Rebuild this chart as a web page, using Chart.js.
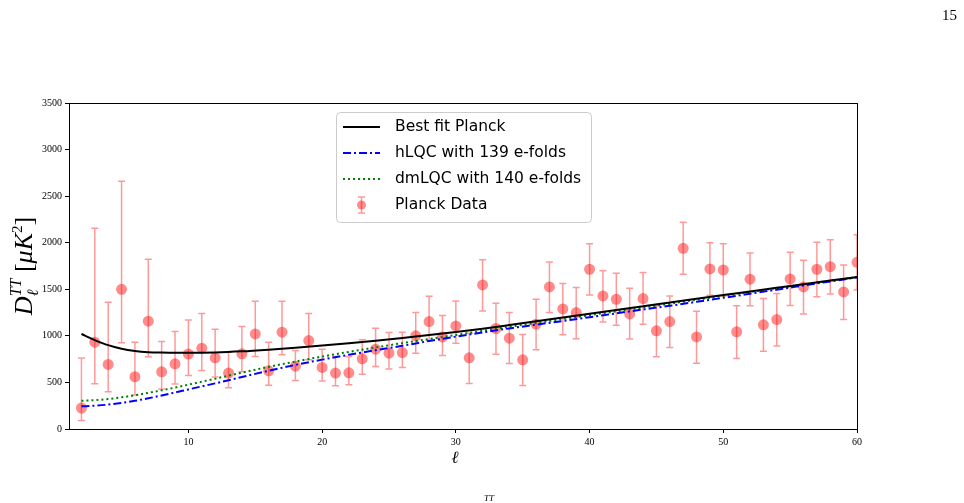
<!DOCTYPE html>
<html>
<head>
<meta charset="utf-8">
<script src="https://cdn.jsdelivr.net/npm/chart.js@4"></script>
<style>
    html, body { margin: 0; padding: 0; background: #fff; }
    #wrap { width: 964px; height: 503px; }
</style>
</head>
<body>
<div id="wrap"><canvas id="c"></canvas></div>
<script>
// Planck data points, ell = 2..60
const ells = [2,3,4,5,6,7,8,9,10,11,12,13,14,15,16,17,18,19,20,21,22,23,24,25,26,27,28,29,30,31,
    32,33,34,35,36,37,38,39,40,41,42,43,44,45,46,47,48,49,50,51,52,53,54,55,56,57,58,59,60];
const planckDl = [225,932,693,1500,561,1157,614,700,804,868, 764,600,807,1021,625,1040,675,950,661,600,
    603,753,857,814,821,1000,1153,989,1107,764, 1547,1079,975,743,1125,1525,1289,1250,1715,1429,
    1393,1236,1400,1054,1153,1940,989,1718,1707,1043, 1608,1118,1175,1611,1525,1715,1743,1472,1790];
const planckLow = [92,486,400,925,364,775,429,482,575,628, 557,443,614,778,471,796,521,743,514,464,
    475,589,671,643,661,814,950,789,921,489, 1268,803,703,468,850,1250,1011,968,1439,1150,
    1115,965,1125,775,875,1661,707,1436,1429,757, 1322,836,890,1325,1236,1421,1450,1175,1493];
const planckHigh = [761,2154,1361,2661,932,1822,939,1046,1171,1239, 1072,825,1100,1372,932,1372,843,1239,857,778,
    778,957,1082,1035,1039,1250,1425,1218,1375,1029, 1818,1350,1250,1014,1393,1793,1561,1518,1989,1700,
    1672,1511,1679,1322,1429,2219,1265,2000,1989,1322, 1890,1400,1454,1897,1811,2004,2032,1761,2086];

// model curves
const fitEll = [2,3,4,5,6,7,8,9,10,12,14,16,18,20,22,24,26,28,30,32,34,36,38,40,42,44,46,48,50,52,54,56,58,60];
const bestFit = [1020,955,900,862,838,825,820,818,818, 822,834,852,873,896,921,948,977,1008,1041,1077,1116,1156,
    1197,1238,1278,1318,1358,1398,1438,1477,1516,1555,1594,1632];
const hlqc = [243,250,262,280,303,330,360,392,425, 490,558,625,688,745,797,846,893,945,992,1037,1080,1120,
    1160,1200,1242,1283,1323,1365,1408,1452,1496,1540,1584,1628];
const dmlqc = [303,310,322,340,362,388,415,445,476, 540,605,667,724,778,828,876,922,966,1010,1053,1096,1139,
    1181,1222,1263,1304,1345,1387,1429,1471,1512,1552,1592,1630];

const xTicks = [10, 20, 30, 40, 50, 60];
const yTicks = [0, 500, 1000, 1500, 2000, 2500, 3000, 3500];

const pts = (xs, ys) => xs.map((x, i) => ({ x: x, y: ys[i] }));
const serif = "'Liberation Serif', 'DejaVu Serif', serif";
const sans = "'DejaVu Sans', 'Open Sans', sans-serif";

const errorBars = {
    id: "errorBars",
    beforeDatasetsDraw(chart) {
        const { ctx, chartArea: a, scales: { x, y } } = chart;
        ctx.save();
        ctx.beginPath();
        ctx.rect(a.left, a.top, a.right - a.left, a.bottom - a.top);
        ctx.clip();
        ctx.strokeStyle = "rgba(255,0,0,0.4)";
        ctx.lineWidth = 1.5;
        ells.forEach((l, i) => {
            const px = x.getPixelForValue(l);
            const lo = y.getPixelForValue(planckLow[i]);
            const hi = y.getPixelForValue(planckHigh[i]);
            ctx.beginPath();
            ctx.moveTo(px, lo); ctx.lineTo(px, hi);
            ctx.moveTo(px - 3.5, lo); ctx.lineTo(px + 3.5, lo);
            ctx.moveTo(px - 3.5, hi); ctx.lineTo(px + 3.5, hi);
            ctx.stroke();
        });
        ctx.restore();
    },
};

const frameAndText = {
    id: "frameAndText",
    afterDraw(chart) {
        const { ctx, chartArea: a } = chart;
        ctx.save();
        ctx.strokeStyle = "#000";
        ctx.lineWidth = 1;
        ctx.strokeRect(a.left + 0.5, a.top + 0.5, a.right - a.left, a.bottom - a.top);

        // legend
        const bx = 336, by = 112, bw = 255, bh = 110;
        ctx.fillStyle = "rgba(255,255,255,0.85)";
        ctx.strokeStyle = "#cccccc";
        ctx.beginPath();
        ctx.roundRect(bx + 0.5, by + 0.5, bw, bh, 4);
        ctx.fill();
        ctx.stroke();
        const rows = [127, 153, 179, 205];
        const labels = ["Best fit Planck", "hLQC with 139 e-folds", "dmLQC with 140 e-folds", "Planck Data"];
        const ds = chart.data.datasets;
        for (let i = 0; i < 3; i++) {
            ctx.strokeStyle = ds[i].borderColor;
            ctx.lineWidth = ds[i].borderWidth;
            ctx.setLineDash(ds[i].borderDash || []);
            ctx.beginPath();
            ctx.moveTo(343, rows[i]);
            ctx.lineTo(380, rows[i]);
            ctx.stroke();
        }
        ctx.setLineDash([]);
        ctx.strokeStyle = "rgba(255,0,0,0.4)";
        ctx.lineWidth = 1.5;
        ctx.beginPath();
        ctx.moveTo(361.5, rows[3] - 8); ctx.lineTo(361.5, rows[3] + 8);
        ctx.moveTo(358, rows[3] - 8); ctx.lineTo(365, rows[3] - 8);
        ctx.moveTo(358, rows[3] + 8); ctx.lineTo(365, rows[3] + 8);
        ctx.stroke();
        ctx.fillStyle = "rgba(255,0,0,0.45)";
        ctx.beginPath();
        ctx.arc(361.5, rows[3], 4.5, 0, Math.PI * 2);
        ctx.fill();
        ctx.fillStyle = "#000";
        ctx.font = "15.5px " + sans;
        ctx.textBaseline = "middle";
        labels.forEach((t, i) => ctx.fillText(t, 395, rows[i]));

        // page number and cut-off caption bit
        ctx.font = "15px " + serif;
        ctx.textAlign = "right";
        ctx.fillText("15", 957, 16);
        ctx.font = "italic 9px " + serif;
        ctx.textAlign = "left";
        ctx.fillText("TT", 484, 499);

        // x title
        ctx.font = "italic 17px " + serif;
        ctx.textAlign = "center";
        ctx.fillText("\u2113", 455, 459);

        // y title D_l^TT [muK^2]
        ctx.translate(24, 266);
        ctx.rotate(-Math.PI / 2);
        const big = "italic 26px " + serif, small = "italic 16px " + serif, up = "26px " + serif;
        const parts = [
            { t: "D", f: big, dy: 0 },
            { t: "\u2113", f: small, dy: 6, keep: true },
            { t: "TT", f: small, dy: -11 },
            { t: " [", f: up, dy: 0 },
            { t: "\u03bcK", f: big, dy: 0 },
            { t: "2", f: "15px " + serif, dy: -10 },
            { t: "]", f: up, dy: 0 },
        ];
        let w = 0;
        parts.forEach(p => { ctx.font = p.f; p.w = ctx.measureText(p.t).width; if (!p.keep) w += p.w; });
        let cx = -w / 2;
        ctx.textAlign = "left";
        ctx.textBaseline = "alphabetic";
        parts.forEach(p => {
            ctx.font = p.f;
            ctx.fillText(p.t, cx, 8 + p.dy);
            if (!p.keep) cx += p.w;
        });
        ctx.restore();
    },
};

new Chart(document.getElementById("c"), {
    type: "scatter",
    data: {
        datasets: [
            {
                type: "line",
                label: "Best fit Planck",
                data: pts(fitEll, bestFit),
                borderColor: "#000000",
                borderWidth: 2,
                pointRadius: 0,
                cubicInterpolationMode: "monotone",
                clip: 0,
            },
            {
                type: "line",
                label: "hLQC with 139 e-folds",
                data: pts(fitEll, hlqc),
                borderColor: "#0000ff",
                borderWidth: 2,
                borderDash: [8, 3, 2, 3],
                pointRadius: 0,
                cubicInterpolationMode: "monotone",
                clip: 0,
            },
            {
                type: "line",
                label: "dmLQC with 140 e-folds",
                data: pts(fitEll, dmlqc),
                borderColor: "#008000",
                borderWidth: 2,
                borderDash: [2, 3],
                pointRadius: 0,
                cubicInterpolationMode: "monotone",
                clip: 0,
            },
            {
                label: "Planck Data",
                data: pts(ells, planckDl),
                backgroundColor: "rgba(255,0,0,0.45)",
                borderWidth: 0,
                pointRadius: 5.5,
                clip: 0,
            },
        ],
    },
    options: {
        responsive: true,
        maintainAspectRatio: false,
        animation: false,
        layout: { padding: { left: 0, right: 107, top: 103, bottom: 0 } },
        plugins: { legend: { display: false }, tooltip: { enabled: false } },
        scales: {
            x: {
                type: "linear",
                min: 1.07,
                max: 60,
                afterFit: (axis) => { axis.height = 74; },
                afterBuildTicks: (axis) => { axis.ticks = xTicks.map(v => ({ value: v })); },
                grid: { drawOnChartArea: false, drawTicks: true, tickLength: 4, color: "#000" },
                border: { color: "#000" },
                ticks: { color: "#000", font: { family: serif, size: 10 }, padding: 3, maxRotation: 0,
                    callback: (v) => String(v) },
            },
            y: {
                min: 0,
                max: 3500,
                afterFit: (axis) => { axis.width = 69; },
                afterBuildTicks: (axis) => { axis.ticks = yTicks.map(v => ({ value: v })); },
                grid: { drawOnChartArea: false, drawTicks: true, tickLength: 4, color: "#000" },
                border: { color: "#000" },
                ticks: { color: "#000", font: { family: serif, size: 10 }, padding: 3,
                    callback: (v) => String(v) },
            },
        },
    },
    plugins: [errorBars, frameAndText],
});
</script>
</body>
</html>
